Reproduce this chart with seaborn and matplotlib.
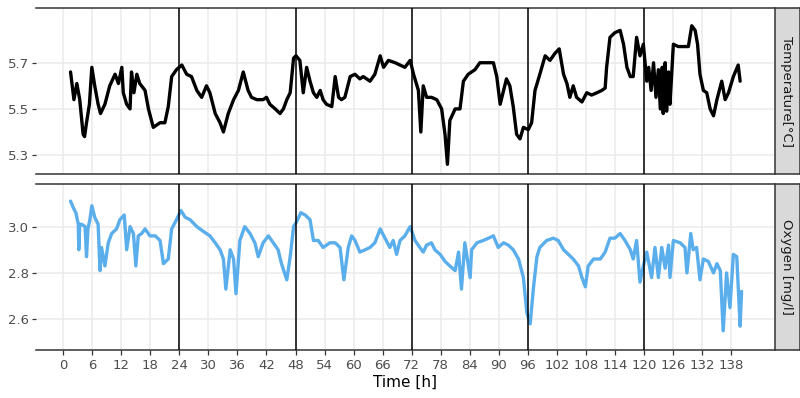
import pandas as pd
import matplotlib
matplotlib.use("Agg")
import matplotlib.pyplot as plt
import seaborn as sns

# === Data ===
temp_time = [
    1.5, 2.2, 2.8, 3.4, 4.1, 4.4, 4.8, 5.4, 5.9, 6.5, 7.2, 7.7, 8.6, 9.6, 10.7, 11.4,
    12.1, 12.4, 13.1, 13.8, 14.1, 14.6, 15.2, 15.8, 16.9, 17.6, 18.6, 20.0, 21.0, 21.7,
    22.4, 23.4, 24.5, 25.5, 26.5, 27.6, 28.6, 29.6, 30.3, 31.4, 32.4, 33.1, 34.1, 35.2,
    36.2, 37.2, 38.2, 38.9, 40.0, 41.3, 42.0, 42.7, 43.8, 44.8, 45.5, 46.2, 46.9, 47.6,
    48.1, 48.9, 49.6, 50.3, 51.0, 51.7, 52.4, 53.1, 53.7, 54.4, 55.5, 56.2, 56.9, 57.5,
    58.2, 59.3, 60.3, 61.3, 62.0, 63.4, 64.4, 65.5, 66.2, 67.2, 68.6, 69.6, 70.6, 71.7,
    72.4, 73.4, 73.9, 74.4, 75.1, 76.1, 77.2, 78.2, 78.9, 79.4, 79.9, 81.0, 82.0, 82.7,
    83.7, 85.1, 86.1, 87.5, 88.9, 89.6, 90.3, 91.0, 91.6, 92.3, 93.0, 93.7, 94.4, 95.1,
    96.1, 96.8, 97.5, 98.5, 99.6, 100.6, 101.6, 102.5, 103.4, 104.1, 104.7, 105.4, 106.1,
    107.2, 108.2, 109.2, 110.3, 111.3, 112.0, 112.3, 113.0, 114.0, 115.1, 115.8, 116.5,
    117.2, 117.8, 118.5, 119.2, 119.9, 120.6, 121.0, 121.5, 122.0, 122.5, 123.0, 123.4,
    123.8, 124.0, 124.4, 124.7, 125.1, 125.4, 126.1, 127.1, 128.2, 129.2, 129.9, 130.6,
    131.1, 131.6, 132.3, 133.0, 133.7, 134.4, 135.1, 136.1, 136.8, 137.5, 138.5, 139.5,
    139.9,
]
temp_value = [
    5.66, 5.54, 5.61, 5.54, 5.39, 5.38, 5.44, 5.52, 5.68, 5.60, 5.52, 5.48, 5.52, 5.60, 5.65, 5.61,
    5.68, 5.57, 5.52, 5.50, 5.66, 5.57, 5.65, 5.61, 5.58, 5.50, 5.42, 5.44, 5.44, 5.51,
    5.64, 5.67, 5.69, 5.65, 5.64, 5.58, 5.55, 5.60, 5.57, 5.48, 5.44, 5.40, 5.48, 5.54,
    5.58, 5.66, 5.58, 5.55, 5.54, 5.54, 5.55, 5.52, 5.50, 5.48, 5.50, 5.54, 5.57, 5.72,
    5.73, 5.71, 5.57, 5.68, 5.62, 5.57, 5.55, 5.58, 5.54, 5.52, 5.51, 5.64, 5.55, 5.54,
    5.55, 5.64, 5.65, 5.63, 5.64, 5.62, 5.65, 5.73, 5.68, 5.71, 5.70, 5.69, 5.68, 5.71,
    5.65, 5.58, 5.40, 5.60, 5.55, 5.55, 5.54, 5.50, 5.39, 5.26, 5.45, 5.50, 5.50, 5.62,
    5.65, 5.67, 5.70, 5.70, 5.70, 5.64, 5.52, 5.58, 5.63, 5.60, 5.51, 5.39, 5.37, 5.42,
    5.41, 5.44, 5.58, 5.65, 5.73, 5.71, 5.74, 5.76, 5.65, 5.61, 5.55, 5.60, 5.55,
    5.53, 5.57, 5.56, 5.57, 5.58, 5.59, 5.68, 5.81, 5.83, 5.84, 5.78, 5.68,
    5.64, 5.64, 5.81, 5.73, 5.78, 5.62, 5.68, 5.58, 5.70, 5.55, 5.67, 5.50,
    5.68, 5.48, 5.70, 5.49, 5.66, 5.52, 5.78, 5.77, 5.77, 5.77, 5.86, 5.84,
    5.78, 5.65, 5.58, 5.57, 5.50, 5.47, 5.54, 5.62, 5.54, 5.57, 5.64, 5.69,
    5.62,
]

oxy_time = [
    1.5, 2.1, 2.6, 3.1, 3.2, 3.4, 3.8, 4.5, 4.8, 5.1, 5.5, 5.9, 6.5, 7.2, 7.6, 7.9, 8.6,
    9.3, 10.0, 11.0, 11.7, 12.6, 13.1, 13.8, 14.5, 15.0, 15.5, 16.2, 16.9, 17.9, 19.0,
    20.0, 20.7, 21.7, 22.4, 23.4, 24.3, 25.2, 26.2, 27.6, 28.9, 30.3, 31.4, 32.4, 33.1,
    33.6, 34.5, 35.2, 35.7, 36.5, 37.5, 38.6, 39.6, 40.3, 41.3, 42.4, 43.4, 44.4, 45.1,
    46.2, 46.9, 47.6, 48.2, 49.1, 50.0, 51.0, 51.7, 52.7, 53.7, 55.1, 56.2, 57.2, 58.0,
    58.9, 59.6, 60.3, 61.3, 62.4, 63.4, 64.4, 65.5, 66.5, 67.5, 68.2, 68.9, 69.6, 70.6,
    71.7, 72.7, 73.7, 74.4, 75.1, 76.1, 76.8, 77.9, 78.9, 79.9, 81.0, 81.7, 82.3, 83.0,
    84.1, 84.4, 85.5, 86.8, 87.9, 88.9, 89.9, 91.0, 92.0, 93.0, 94.1, 95.1, 95.8, 96.5,
    97.2, 97.9, 98.5, 99.9, 101.3, 102.3, 103.4, 104.4, 105.4, 106.5, 107.2, 107.9, 108.5,
    109.6, 111.0, 112.0, 113.0, 114.0, 115.1, 116.1, 117.2, 117.8, 118.5, 119.2, 119.9,
    120.6, 121.6, 122.3, 123.0, 123.7, 124.4, 125.1, 125.4, 126.1, 127.5, 128.5, 128.9,
    129.7, 130.2, 130.9, 131.6, 132.3, 133.3, 134.4, 135.1, 135.8, 136.4, 137.1, 137.8,
    138.5, 139.2, 139.9, 140.2,
]
oxy_value = [
    3.11, 3.08, 3.06, 3.01, 2.90, 3.01, 3.01, 3.00, 2.87, 2.99, 3.03, 3.09, 3.04, 3.01, 2.81, 2.91, 2.83,
    2.93, 2.97, 2.99, 3.03, 3.05, 2.90, 3.00, 2.97, 2.83, 2.96, 2.97, 2.99, 2.96, 2.96,
    2.94, 2.84, 2.86, 2.99, 3.03, 3.07, 3.04, 3.03, 3.00, 2.98, 2.96, 2.93, 2.90, 2.86,
    2.73, 2.90, 2.86, 2.71, 2.94, 3.00, 2.97, 2.93, 2.87, 2.93, 2.96, 2.93, 2.90, 2.84,
    2.77, 2.87, 3.00, 3.02, 3.06, 3.05, 3.03, 2.94, 2.94, 2.91, 2.93, 2.93, 2.91, 2.77,
    2.91, 2.96, 2.94, 2.89, 2.90, 2.91, 2.93, 2.99, 2.95, 2.91, 2.94, 2.88, 2.94, 2.96,
    3.00, 2.94, 2.91, 2.89, 2.92, 2.93, 2.90, 2.88, 2.85, 2.83, 2.81, 2.89, 2.73, 2.93,
    2.78, 2.90, 2.93, 2.94, 2.95, 2.96, 2.91, 2.93, 2.92, 2.90, 2.86, 2.78, 2.63, 2.58,
    2.74, 2.87, 2.91, 2.94, 2.95, 2.94, 2.90, 2.88, 2.86, 2.83, 2.78, 2.74, 2.83,
    2.86, 2.86, 2.89, 2.95, 2.95, 2.97, 2.94, 2.90, 2.86, 2.94, 2.76, 2.83,
    2.89, 2.78, 2.91, 2.78, 2.91, 2.82, 2.92, 2.78, 2.94, 2.93, 2.91, 2.80,
    2.97, 2.90, 2.91, 2.77, 2.86, 2.85, 2.80, 2.84, 2.81, 2.55, 2.80, 2.65,
    2.88, 2.87, 2.57, 2.72,
]

day_marks = [24, 48, 72, 96, 120]
x_ticks = list(range(0, 139, 6))
temp_ticks = [5.3, 5.5, 5.7]
oxy_ticks = [2.6, 2.8, 3.0]
strip_labels = ["Temperature[°C]", "Oxygen [mg/l]"]

temp_df = pd.DataFrame({"time": temp_time, "value": temp_value})
oxy_df = pd.DataFrame({"time": oxy_time, "value": oxy_value})

# === Style ===
sns.set_theme(style="white")
plt.rcParams["font.family"] = ["DejaVu Sans"]

fig = plt.figure(figsize=(8, 3.98), dpi=100)
W, H = 800, 398


def box(x0, y0, x1, y1):
    return [x0 / W, 1 - y1 / H, (x1 - x0) / W, (y1 - y0) / H]


ax_t = fig.add_axes(box(36, 8, 774, 174))
ax_o = fig.add_axes(box(36, 184, 774, 350))

panels = [
    (ax_t, temp_df, "black", temp_ticks, (5.218, 5.937)),
    (ax_o, oxy_df, "#5AAEEB", oxy_ticks, (2.467, 3.184)),
]

for ax, df, col, yt, ylim in panels:
    sns.lineplot(data=df, x="time", y="value", ax=ax, color=col, linewidth=2.4,
                 estimator=None, sort=False)
    for d in day_marks:
        ax.axvline(d, color="black", linewidth=1.1, zorder=3)
    ax.set_xlim(-5.64, 146.9)
    ax.set_ylim(*ylim)
    ax.set_xticks(x_ticks)
    ax.set_yticks(yt)
    ax.set_yticklabels([f"{v:.1f}" for v in yt])
    ax.grid(True, color="#EBEBEB", linewidth=1.1)
    ax.set_axisbelow(True)
    ax.set_xlabel("")
    ax.set_ylabel("")
    for s in ["left", "right"]:
        ax.spines[s].set_visible(False)
    for s in ["top", "bottom"]:
        ax.spines[s].set_color("#333333")
        ax.spines[s].set_linewidth(1.1)
    ax.tick_params(axis="y", length=3, width=0.9, color="#333333",
                   labelsize=9.5, labelcolor="#4D4D4D", pad=2, left=True)

ax_t.tick_params(axis="x", bottom=False, labelbottom=False)
ax_o.tick_params(axis="x", length=3.5, width=0.9, color="#333333", bottom=True,
                 labelsize=9.5, labelcolor="#4D4D4D", pad=3)
ax_o.set_xlabel("Time [h]", fontsize=11, color="black", labelpad=2)

# facet strips on the right
for (y0, y1), label in zip([(8, 174), (184, 350)], strip_labels):
    sax = fig.add_axes(box(775, y0, 800, y1))
    sax.set_facecolor("#D9D9D9")
    sax.set_xticks([])
    sax.set_yticks([])
    for s in sax.spines.values():
        s.set_color("#333333")
        s.set_linewidth(1.1)
    sax.text(0.45, 0.5, label, rotation=270, ha="center", va="center",
             fontsize=9.5, color="#1A1A1A", transform=sax.transAxes)

plt.savefig("out.png", dpi=100)
